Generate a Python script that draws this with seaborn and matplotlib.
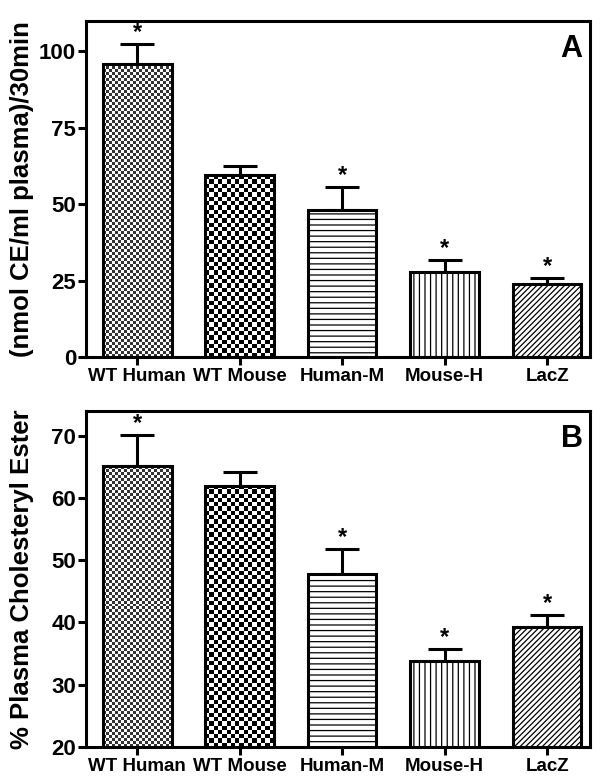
import numpy as np
import pandas as pd
import seaborn as sns
import matplotlib
matplotlib.use('Agg')
import matplotlib.pyplot as plt

categories = ['WT Human', 'WT Mouse', 'Human-M', 'Mouse-H', 'LacZ']
# panel A: LCAT activity
activity = [96.0, 59.5, 48.0, 27.8, 24.0]
activity_err = [6.3, 3.0, 7.5, 4.0, 2.0]
activity_star = [True, False, True, True, True]
# panel B: % plasma cholesteryl ester
ce_pct = [65.1, 62.0, 47.8, 33.8, 39.3]
ce_err = [5.0, 2.1, 4.0, 2.0, 1.9]
ce_star = [True, False, True, True, True]

# checker cell size in pixels (0 = use hatch instead), and darkest shade
checker = [3.0, 4.3, 0, 0, 0]
checker_dark = [-0.25, 0.0, 0, 0, 0]
hatches = [None, None, '---', '|||', '//////']

sns.set_style('ticks', rc={'axes.edgecolor': 'black', 'text.color': 'black',
                           'axes.labelcolor': 'black', 'xtick.color': 'black',
                           'ytick.color': 'black'})
plt.rcParams['font.family'] = ['Liberation Sans', 'DejaVu Sans']
plt.rcParams['font.weight'] = 'bold'
plt.rcParams['hatch.linewidth'] = 0.9

fig = plt.figure(figsize=(6.01, 7.80), dpi=100)
axA = fig.add_axes([0.143, 0.5423, 0.839, 0.431])
axB = fig.add_axes([0.143, 0.0423, 0.839, 0.431])


def panel(ax, vals, errs, stars, ylim, yticks, ylabel, letter):
    df = pd.DataFrame({'group': categories, 'value': vals})
    sns.barplot(data=df, x='group', y='value', ax=ax, color='white',
                edgecolor='black', linewidth=2.2, width=0.67, errorbar=None,
                zorder=2)
    ax.set_xlim(-0.5, 4.42)
    ax.set_ylim(*ylim)
    patches = list(ax.patches)
    for p, h, cell, dk in zip(patches, hatches, checker, checker_dark):
        p.set_edgecolor('black')
        if cell:
            p.set_facecolor('none')
            x0, x1 = p.get_x(), p.get_x() + p.get_width()
            y0 = max(p.get_y(), ylim[0])
            y1 = p.get_y() + p.get_height()
            (dx0, dy0), (dx1, dy1) = ax.transData.transform([(x0, y0), (x1, y1)])
            nx = max(int(round((dx1 - dx0) / cell)), 1)
            ny = max(int(round((dy1 - dy0) / cell)), 1)
            board = np.indices((ny, nx)).sum(axis=0) % 2
            im = ax.imshow(board, cmap='gray', vmin=dk, vmax=1,
                           interpolation='nearest', aspect='auto',
                           extent=[x0, x1, y0, y1], zorder=1.5)
            im.set_clip_path(p)
        else:
            p.set_facecolor('white')
            p.set_hatch(h)
    x = np.arange(len(categories))
    ax.errorbar(x, vals, yerr=[np.zeros(len(vals)), errs], fmt='none',
                ecolor='black', elinewidth=2.2, capsize=12.5, capthick=2.2,
                zorder=1)
    for xi, v, e, s in zip(x, vals, errs, stars):
        if s:
            ax.text(xi, v + e, '*', ha='center', va='bottom', fontsize=17,
                    fontweight='bold')
    ax.set_xlim(-0.5, 4.42)
    ax.set_ylim(*ylim)
    ax.set_yticks(yticks)
    ax.set_xlabel('')
    ax.set_ylabel(ylabel, fontsize=18.5, fontweight='bold')
    ax.yaxis.set_label_coords(-0.103, 0.5)
    ax.tick_params(axis='y', labelsize=16, width=2.2, length=6, direction='out', pad=1)
    ax.tick_params(axis='x', labelsize=13.5, width=2.2, length=6, direction='out', pad=2)
    for sp in ax.spines.values():
        sp.set_linewidth(2.2)
        sp.set_visible(True)
        sp.set_color('black')
    for lab in ax.get_xticklabels() + ax.get_yticklabels():
        lab.set_fontweight('bold')
    ax.text(0.985, 0.96, letter, transform=ax.transAxes, ha='right', va='top',
            fontsize=22, fontweight='bold')


panel(axA, activity, activity_err, activity_star, (0, 110), [0, 25, 50, 75, 100],
      '(nmol CE/ml plasma)/30min', 'A')
panel(axB, ce_pct, ce_err, ce_star, (20, 74), [20, 30, 40, 50, 60, 70],
      '% Plasma Cholesteryl Ester', 'B')

fig.savefig('out.png', dpi=100)
